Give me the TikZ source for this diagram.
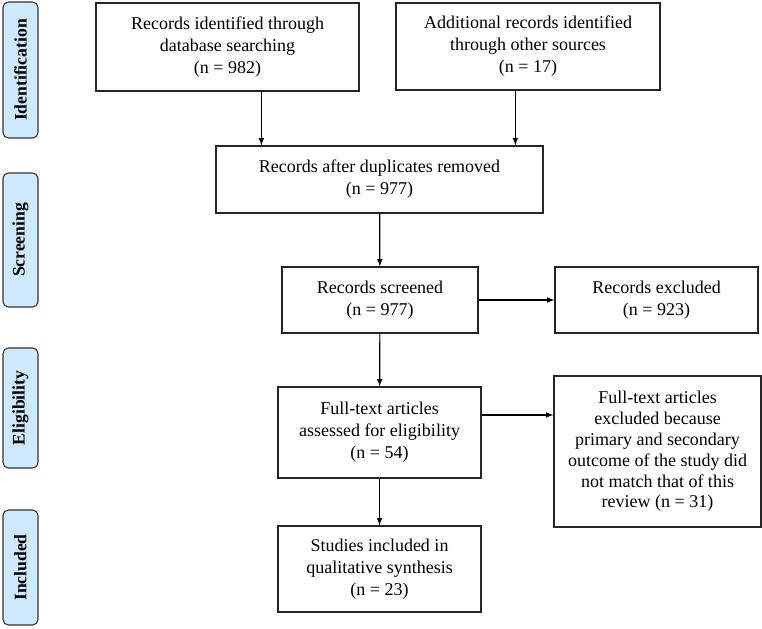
\documentclass[tikz,border=0pt]{standalone}
\usepackage{fontspec}
\setmainfont{Liberation Serif}
\usepackage{tikz}
\usetikzlibrary{shapes,arrows,positioning,calc}
\definecolor{stagefill}{RGB}{206,232,252}

\begin{document}
\begin{tikzpicture}[x=0.75pt, y=-0.75pt,
    box/.style={draw=black!85, line width=0.9pt, align=center, inner sep=2pt,
        font=\fontsize{13.5}{16.5}\selectfont},
    stage/.style={draw=black!80, fill=stagefill, rounded corners=4pt, line width=0.8pt,
        rotate=90, minimum height=26.25pt, inner sep=1pt,
        font=\fontsize{13.2}{16}\selectfont\bfseries},
    arr/.style={-latex, line width=0.9pt}]
    \useasboundingbox (0,0) rectangle (762,628);

    % Stages on the left
    \node[stage, minimum width=102pt] (ident) at (20.5,70) {Identification};
    \node[stage, minimum width=100.5pt] (screen) at (20.5,240) {Screening};
    \node[stage, minimum width=90pt] (elig) at (20.5,408) {Eligibility};
    \node[stage, minimum width=86.25pt] (incl) at (20.5,567.5) {Included};

    % Identification
    \node[box, minimum width=197.25pt, minimum height=66pt] (dbase) at (227.5,47)
        {Records identified through\\database searching\\(n = 982)};
    \node[box, minimum width=198pt, minimum height=65.25pt] (other) at (528,46.5)
        {Additional records identified\\through other sources\\(n = 17)};

    % Screening
    \node[box, minimum width=245.25pt, minimum height=50.25pt] (recs) at (379.5,179.5)
        {Records after duplicates removed\\(n = 977)};
    \node[box, minimum width=147pt, minimum height=49.5pt] (screened) at (380,300)
        {Records screened\\(n = 977)};
    \node[box, minimum width=152.25pt, minimum height=49.5pt] (excl) at (656.5,300)
        {Records excluded\\(n = 923)};

    % Eligibility
    \node[box, minimum width=152.25pt, minimum height=68.25pt] (fulltext) at (379.5,432.5)
        {Full-text articles\\assessed for eligibility\\(n = 54)};
    \node[box, minimum width=155.25pt, minimum height=113.25pt,
        font=\fontsize{13.5}{15.6}\selectfont] (ftexcl) at (657.5,451.5)
        {Full-text articles\\excluded because\\primary and secondary\\outcome of the study did\\not match that of this\\review (n = 31)};

    % Included
    \node[box, minimum width=152.25pt, minimum height=64.5pt] (included) at (379.5,569)
        {Studies included in\\qualitative synthesis\\(n = 23)};

    % Connectors
    \coordinate (inL) at ($(recs.north west)!0.14!(recs.north east)$);
    \coordinate (inR) at ($(recs.north west)!0.914!(recs.north east)$);
    \draw[arr] (dbase.south -| inL) -- (inL);
    \draw[arr] (other.south -| inR) -- (inR);
    \draw[arr] (recs) -- (screened);
    \draw[arr] (screened) -- (excl);
    \draw[arr] (screened) -- (fulltext);
    \coordinate (fOut) at ($(fulltext.north east)!0.31!(fulltext.south east)$);
    \draw[arr] (fOut) -- (fOut -| ftexcl.west);
    \draw[arr] (fulltext) -- (included);
\end{tikzpicture}
\end{document}
